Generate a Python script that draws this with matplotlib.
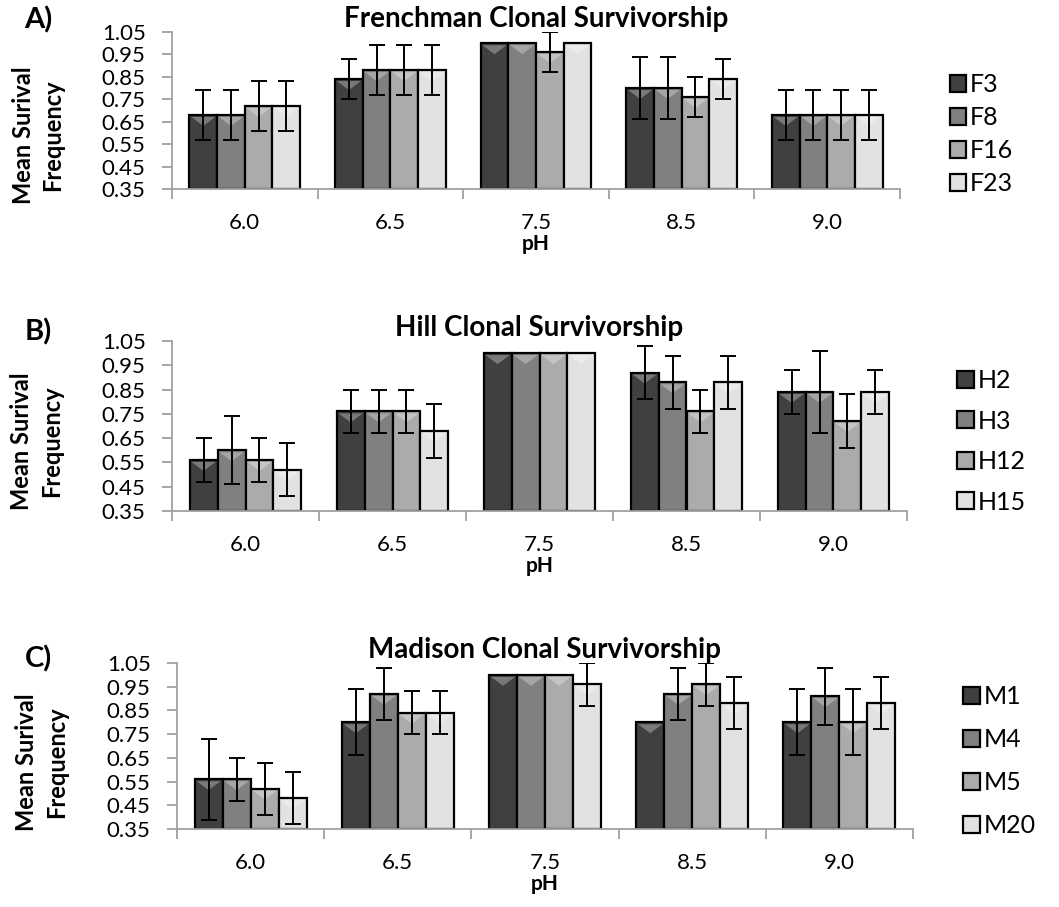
import numpy as np
import matplotlib.pyplot as plt
from matplotlib.patches import Polygon
from matplotlib.colors import to_rgb

plt.rcParams['font.family'] = ['Lato', 'DejaVu Sans']

ph = ['6.0', '6.5', '7.5', '8.5', '9.0']

# Frenchman
f_names = ['F3', 'F8', 'F16', 'F23']
f_vals = [[0.68, 0.84, 1.00, 0.80, 0.68],
          [0.68, 0.88, 1.00, 0.80, 0.68],
          [0.72, 0.88, 0.96, 0.76, 0.68],
          [0.72, 0.88, 1.00, 0.84, 0.68]]
f_err = [[0.11, 0.09, 0.00, 0.14, 0.11],
         [0.11, 0.11, 0.00, 0.14, 0.11],
         [0.11, 0.11, 0.09, 0.09, 0.11],
         [0.11, 0.11, 0.00, 0.09, 0.11]]

# Hill
h_names = ['H2', 'H3', 'H12', 'H15']
h_vals = [[0.56, 0.76, 1.00, 0.92, 0.84],
          [0.60, 0.76, 1.00, 0.88, 0.84],
          [0.56, 0.76, 1.00, 0.76, 0.72],
          [0.52, 0.68, 1.00, 0.88, 0.84]]
h_err = [[0.09, 0.09, 0.00, 0.11, 0.09],
         [0.14, 0.09, 0.00, 0.11, 0.17],
         [0.09, 0.09, 0.00, 0.09, 0.11],
         [0.11, 0.11, 0.00, 0.11, 0.09]]

# Madison
m_names = ['M1', 'M4', 'M5', 'M20']
m_vals = [[0.56, 0.80, 1.00, 0.80, 0.80],
          [0.56, 0.92, 1.00, 0.92, 0.91],
          [0.52, 0.84, 1.00, 0.96, 0.80],
          [0.48, 0.84, 0.96, 0.88, 0.88]]
m_err = [[0.17, 0.14, 0.00, 0.00, 0.14],
         [0.09, 0.11, 0.00, 0.11, 0.12],
         [0.11, 0.09, 0.00, 0.09, 0.14],
         [0.11, 0.09, 0.09, 0.11, 0.11]]

yticks = [0.35, 0.45, 0.55, 0.65, 0.75, 0.85, 0.95, 1.05]
colors = ['#404040', '#808080', '#ababab', '#e2e2e2']
gray = '#a0a0a0'

W, H = 1059, 907
fig = plt.figure(figsize=(W / 100, H / 100), dpi=100)


def px_axes(left, top, right, bottom):
    return fig.add_axes([left / W, 1 - bottom / H, (right - left) / W, (bottom - top) / H])


def lighten(c, f):
    r = np.array(to_rgb(c))
    return tuple(r + (1 - r) * f)


def panel(ax, title, letter, names, vals, errs, leg_y, spacing, ylab_y, letter_y):
    x = np.arange(len(ph))
    bw = 0.19
    base = 0.35
    # pixel sizes in data units, for the small highlight at the top of each bar
    pos_ax = ax.get_position()
    py = 0.7 / (pos_ax.height * H)
    px = 5.0 / (pos_ax.width * W)
    for i in range(4):
        v = np.array(vals[i])
        e = np.array(errs[i])
        pos = x + (i - 1.5) * bw
        bars = ax.bar(pos, v - base, bw, bottom=base, color=colors[i], edgecolor='black',
                      linewidth=1.6, label=names[i], zorder=2)
        for b in bars:
            x0 = b.get_x() + 2 * px
            x1 = b.get_x() + b.get_width() - 2 * px
            top = b.get_y() + b.get_height() - 2 * py
            tri = Polygon([(x0, top), (x1, top), ((x0 + x1) / 2, top - 9 * py)],
                          closed=True, facecolor=lighten(colors[i], 0.3),
                          edgecolor='none', zorder=2.1)
            ax.add_patch(tri)
        mask = e > 0
        ax.errorbar(pos[mask], v[mask], yerr=e[mask], fmt='none', ecolor='black',
                    elinewidth=1.4, capsize=5.5, capthick=1.4, zorder=3)
    ax.set_xlim(-0.5, 4.5)
    ax.set_ylim(0.35, 1.05)
    ax.set_yticks(yticks)
    ax.set_yticklabels(['%.2f' % t for t in yticks])
    ax.set_xticks(x)
    ax.set_xticklabels(ph)
    ax.set_xticks(np.arange(-0.5, 5, 1), minor=True)
    ax.tick_params(axis='x', which='major', length=0, pad=17, labelsize=16)
    ax.tick_params(axis='x', which='minor', length=7, width=1.3, color=gray)
    ax.tick_params(axis='y', length=7, width=1.3, color=gray, pad=12, labelsize=16)
    for s in ['top', 'right']:
        ax.spines[s].set_visible(False)
    for s in ['left', 'bottom']:
        ax.spines[s].set_color(gray)
        ax.spines[s].set_linewidth(1.3)
    ax.set_xlabel('pH', fontsize=15, fontweight='bold', labelpad=1)
    ax.set_title(title, fontsize=20, fontweight='bold', pad=2)
    ax.text(-0.184, ylab_y, 'Mean Surival\nFrequency', transform=ax.transAxes,
            rotation=90, ha='center', va='center', fontsize=17, fontweight='bold',
            linespacing=1.35)
    fig.text(38 / W, 1 - letter_y / H, letter, ha='center', va='center',
             fontsize=21, fontweight='bold')
    ax.legend(loc='center left', bbox_to_anchor=(1.055, leg_y), frameon=False,
              fontsize=18, handlelength=0.65, handleheight=0.65, handletextpad=0.15,
              labelspacing=spacing, borderaxespad=0)


axA = px_axes(172, 32, 900, 189)
panel(axA, 'Frenchman Clonal Survivorship', 'A)', f_names, f_vals, f_err, 0.35, 0.4, 0.34, 20)
axB = px_axes(172, 341, 907, 511)
panel(axB, 'Hill Clonal Survivorship', 'B)', h_names, h_vals, h_err, 0.41, 0.7, 0.41, 332)
axC = px_axes(177, 663, 913, 829)
panel(axC, 'Madison Clonal Survivorship', 'C)', m_names, m_vals, m_err, 0.41, 0.8, 0.40, 659)

fig.savefig('out.png', dpi=100)
